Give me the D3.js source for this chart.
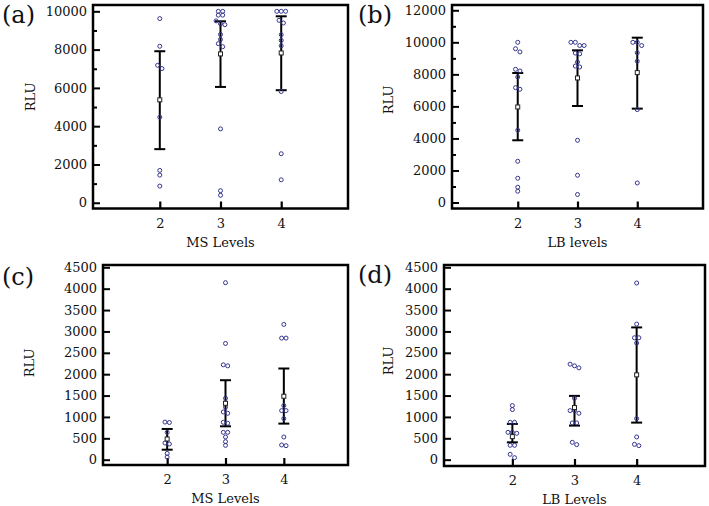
<!DOCTYPE html>
<html><head><meta charset="utf-8">
<script src="https://cdn.jsdelivr.net/npm/d3@7"></script>
<style>
html,body{margin:0;padding:0;background:#fff;}
text{font-family:"DejaVu Serif",serif;fill:#111;}
</style></head>
<body>
<svg id="chart" width="709" height="506"></svg>
<script>
// ---------- data ----------
const levels = [2, 3, 4];
const panelLetters = ["(a)", "(b)", "(c)", "(d)"];
const xTitles = ["MS Levels", "LB levels", "MS Levels", "LB Levels"];
const yTitle = "RLU";

// panel (a): RLU by MS level
const pointsA = [
  [9620, 8175, 7180, 7010, 4470, 1690, 1445, 870],
  [10000, 10000, 9800, 9800, 9500, 9350, 9300, 8790, 8530, 8310, 8150, 3860, 630, 390],
  [10000, 10000, 10000, 9530, 9390, 8780, 8480, 8200, 5810, 2560, 1200]
];
const meanA = [5375, 7775, 7825];
const lowA = [2800, 6050, 5880];
const highA = [7915, 9480, 9740];

// panel (b): RLU by LB level
const pointsB = [
  [10000, 9600, 9400, 8315, 8210, 7835, 7170, 7070, 4510, 2575, 1515, 955, 705],
  [10000, 10000, 9800, 9800, 9330, 9280, 8770, 8520, 8460, 3885, 1700, 500],
  [10000, 10000, 9800, 9350, 8815, 5800, 1220]
];
const meanB = [5965, 7775, 8110];
const lowB = [3885, 6025, 5860];
const highB = [8085, 9500, 10290];

// panel (c): RLU by MS level
const pointsC = [
  [880, 870, 640, 390, 367, 148, 62],
  [4140, 2719, 2219, 2195, 1437, 1227, 1117, 1086, 875, 852, 640, 640, 531, 422, 336],
  [3164, 2844, 2844, 1266, 1148, 1148, 961, 531, 344, 328]
];
const meanC = [484, 1320, 1484];
const lowC = [234, 781, 844];
const highC = [719, 1859, 2133];

// panel (d): RLU by LB level
const pointsD = [
  [1266, 1172, 875, 875, 640, 640, 617, 336, 336, 125, 47],
  [2234, 2195, 2148, 1437, 1148, 1148, 1086, 859, 859, 406, 352],
  [4133, 3172, 2852, 2852, 2727, 961, 531, 359, 328]
];
const meanD = [539, 1219, 1984];
const lowD = [406, 797, 867];
const highD = [836, 1492, 3094];

// axis tick values
const ticksTop = [0, 2000, 4000, 6000, 8000, 10000];
const ticksTopB = [0, 2000, 4000, 6000, 8000, 10000, 12000];
const minorTop = [1000, 3000, 5000, 7000, 9000];
const minorTopB = [1000, 3000, 5000, 7000, 9000, 11000];
const ticksBottom = [0, 500, 1000, 1500, 2000, 2500, 3000, 3500, 4000, 4500];

// ---------- layout ----------
const panels = [
  {pts: pointsA, mean: meanA, lo: lowA, hi: highA, x0: 93, x1: 348, y0: 5, y1: 208.5, yd: [-300, 10330], ticks: ticksTop, minor: minorTop, lx: 2, ly: 23, yt: [30, 97]},
  {pts: pointsB, mean: meanB, lo: lowB, hi: highB, x0: 452, x1: 703, y0: 5, y1: 208.5, yd: [-374, 12330], ticks: ticksTopB, minor: minorTopB, lx: 358, ly: 23, yt: [388, 100]},
  {pts: pointsC, mean: meanC, lo: lowC, hi: highC, x0: 103, x1: 348, y0: 265, y1: 465, yd: [-124, 4554], ticks: ticksBottom, minor: [], lx: 2, ly: 285, yt: [29, 363]},
  {pts: pointsD, mean: meanD, lo: lowD, hi: highD, x0: 444, x1: 705, y0: 265, y1: 466, yd: [-148, 4554], ticks: ticksBottom, minor: [], lx: 358, ly: 283, yt: [388, 361]}
];

const svg = d3.select("#chart");
const pointColor = "#35358f";

panels.forEach((p, pi) => {
  const x = d3.scaleLinear().domain([0.9, 5.1]).range([p.x0, p.x1]);
  const y = d3.scaleLinear().domain(p.yd).range([p.y1, p.y0]);
  const g = svg.append("g");

  // y axis ticks (inside)
  const ya = g.append("g").attr("transform", `translate(${p.x0},0)`)
    .call(d3.axisLeft(y).tickValues(p.ticks).tickSize(-7).tickPadding(6).tickFormat(d3.format("d")));
  ya.select(".domain").remove();
  ya.selectAll("line").attr("stroke", "#000").attr("stroke-width", 2);
  ya.selectAll("text").attr("font-size", 13).attr("font-family", "DejaVu Serif").attr("fill", "#111");
  if (p.minor.length) {
    const ym = g.append("g").attr("transform", `translate(${p.x0},0)`)
      .call(d3.axisLeft(y).tickValues(p.minor).tickSize(-4).tickFormat(""));
    ym.select(".domain").remove();
    ym.selectAll("line").attr("stroke", "#000").attr("stroke-width", 2);
  }

  // x axis ticks (inside)
  const xa = g.append("g").attr("transform", `translate(0,${p.y1})`)
    .call(d3.axisBottom(x).tickValues(levels).tickSize(-7).tickPadding(10).tickFormat(d3.format("d")));
  xa.select(".domain").remove();
  xa.selectAll("line").attr("stroke", "#000").attr("stroke-width", 2.2);
  xa.selectAll("text").attr("font-size", 13).attr("font-family", "DejaVu Serif").attr("fill", "#111");

  // error bars
  levels.forEach((lv, i) => {
    const cx = x(lv);
    g.append("line").attr("x1", cx).attr("x2", cx).attr("y1", y(p.lo[i])).attr("y2", y(p.hi[i]))
      .attr("stroke", "#000").attr("stroke-width", 2);
    [p.lo[i], p.hi[i]].forEach(v => {
      g.append("line").attr("x1", cx - 5.5).attr("x2", cx + 5.5).attr("y1", y(v)).attr("y2", y(v))
        .attr("stroke", "#000").attr("stroke-width", 2);
    });
  });

  // points with small deterministic side-by-side spreading of overlapping ones
  levels.forEach((lv, i) => {
    const vals = p.pts[i].slice().sort((a, b) => b - a);
    const clusters = [];
    vals.forEach(v => {
      const last = clusters[clusters.length - 1];
      if (last && Math.abs(y(last[last.length - 1]) - y(v)) < 3.5) last.push(v);
      else clusters.push([v]);
    });
    clusters.forEach(c => {
      c.forEach((v, k) => {
        g.append("circle").attr("cx", x(lv) + (k - (c.length - 1) / 2) * 4.4).attr("cy", y(v))
          .attr("r", 2).attr("fill", "none").attr("stroke", pointColor).attr("stroke-width", 1);
      });
    });
    // mean marker
    g.append("rect").attr("x", x(lv) - 2).attr("y", y(p.mean[i]) - 2).attr("width", 4).attr("height", 4)
      .attr("fill", "#fff").attr("stroke", "#222").attr("stroke-width", 1);
  });

  // frame
  g.append("rect").attr("x", p.x0).attr("y", p.y0).attr("width", p.x1 - p.x0).attr("height", p.y1 - p.y0)
    .attr("fill", "none").attr("stroke", "#000").attr("stroke-width", 2.5);

  // titles
  g.append("text").attr("x", (p.x0 + p.x1) / 2).attr("y", p.y1 + 38).attr("text-anchor", "middle")
    .attr("font-size", 13).text(xTitles[pi]);
  g.append("text").attr("transform", `translate(${p.yt[0] + 4.7},${p.yt[1]}) rotate(-90)`)
    .attr("text-anchor", "middle").attr("font-size", 13).text(yTitle);
  g.append("text").attr("x", p.lx).attr("y", p.ly).attr("font-size", 24).text(panelLetters[pi]);
});
</script>
</body></html>
